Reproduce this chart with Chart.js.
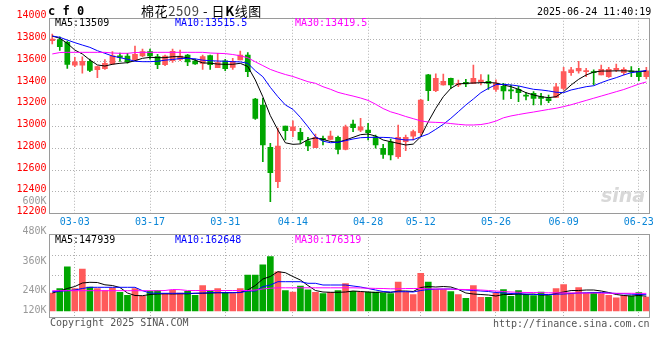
<!DOCTYPE html>
<html><head><meta charset="utf-8">
<script src="https://cdn.jsdelivr.net/npm/chart.js@4/dist/chart.umd.min.js"></script>
<style>
html,body{margin:0;padding:0;background:#fff;}
body{width:660px;height:360px;overflow:hidden;position:relative;font-family:'DejaVu Sans Mono',monospace;}
canvas{position:absolute;left:0;}
#main{top:0;}
#vol{top:226px;}
.t{position:absolute;white-space:nowrap;font-size:10px;line-height:12px;z-index:5;}
</style></head><body>
<canvas id="main" width="660" height="232"></canvas>
<canvas id="vol" width="660" height="134"></canvas>
<div class="t" style="left:48px;top:4px;font-weight:bold;font-size:12px;line-height:14px;">c f 0</div>
<div class="t" style="left:141px;top:2px;font-family:'Noto Sans CJK SC';font-size:13px;line-height:18px;letter-spacing:0.6px;">棉花<span style="color:#444">2509</span> - 日<b>K</b>线图</div>
<div class="t" style="left:537px;top:6px;">2025-06-24 11:40:19</div>
<div class="t" id="lg1" style="left:55px;top:17px;"></div>
<div class="t" id="lg2" style="left:175px;top:17px;color:#0000ff;"></div>
<div class="t" id="lg3" style="left:295px;top:17px;color:#ff00ff;"></div>
<div class="t" id="vl1" style="left:55px;top:234px;"></div>
<div class="t" id="vl2" style="left:175px;top:234px;color:#0000ff;"></div>
<div class="t" id="vl3" style="left:295px;top:234px;color:#ff00ff;"></div>
<div class="t" style="left:0;width:46.5px;text-align:right;top:195px;color:#999;">600K</div>
<div class="t" style="left:50px;top:317px;color:#555;">Copyright 2025 SINA.COM</div>
<div class="t" style="left:493px;top:318px;color:#555;">http://finance.sina.com.cn</div>
<div class="t" style="left:601px;top:184px;font-family:'DejaVu Sans';font-style:italic;font-weight:bold;font-size:19px;line-height:22px;color:#d8d8d8;">sina</div>
<script>
const dates = ['02-26','02-27','02-28','03-03','03-04','03-05','03-06','03-07','03-10','03-11','03-12','03-13','03-14','03-17','03-18','03-19','03-20','03-21','03-24','03-25','03-26','03-27','03-28','03-31','04-01','04-02','04-03','04-07','04-08','04-09','04-10','04-11','04-14','04-15','04-16','04-17','04-18','04-21','04-22','04-23','04-24','04-25','04-28','04-29','04-30','05-06','05-07','05-08','05-09','05-12','05-13','05-14','05-15','05-16','05-19','05-20','05-21','05-22','05-23','05-26','05-27','05-28','05-29','05-30','06-03','06-04','06-05','06-06','06-09','06-10','06-11','06-12','06-13','06-16','06-17','06-18','06-19','06-20','06-23','06-24'];
const opens = [13790,13800,13775,13565,13565,13600,13522,13532,13575,13650,13648,13612,13648,13688,13642,13569,13605,13617,13657,13602,13580,13651,13541,13605,13544,13612,13657,13253,13198,12808,12493,13005,12961,12946,12867,12805,12891,12882,12900,12790,13023,12967,12967,12906,12799,12860,12722,12860,12912,12943,13474,13330,13382,13444,13382,13406,13397,13410,13415,13340,13370,13336,13342,13287,13305,13274,13256,13267,13351,13495,13510,13504,13501,13474,13458,13520,13495,13510,13510,13458];
const highs = [13850,13825,13785,13635,13640,13620,13556,13615,13690,13675,13673,13740,13712,13712,13664,13657,13712,13703,13664,13620,13657,13657,13673,13617,13627,13694,13680,13260,13260,12845,12985,13005,13053,12983,12900,12931,12912,12958,12912,13014,13060,13075,13030,12920,12836,12885,13014,12921,12967,13250,13480,13485,13483,13445,13428,13434,13565,13478,13476,13430,13397,13382,13370,13311,13320,13305,13290,13397,13545,13545,13600,13535,13520,13565,13545,13575,13541,13550,13535,13544];
const lows = [13760,13700,13535,13550,13490,13505,13450,13525,13568,13598,13582,13605,13642,13618,13532,13560,13590,13605,13560,13570,13526,13526,13541,13513,13526,13612,13458,13066,12677,12308,12437,12876,12906,12845,12777,12805,12830,12876,12747,12784,12953,12953,12876,12800,12707,12692,12707,12777,12876,12921,13238,13320,13380,13350,13366,13366,13395,13382,13340,13322,13250,13256,13228,13244,13198,13198,13220,13265,13336,13470,13490,13458,13382,13474,13452,13504,13474,13458,13421,13437];
const closes = [13805,13735,13570,13595,13600,13515,13550,13580,13650,13636,13596,13664,13688,13648,13569,13648,13691,13648,13593,13575,13642,13569,13587,13531,13596,13657,13504,13075,12830,12575,12821,12962,12998,12876,12821,12900,12876,12912,12790,12998,12989,12998,12943,12830,12744,12738,12900,12900,12953,13243,13330,13444,13415,13382,13397,13391,13444,13428,13397,13400,13327,13327,13311,13280,13259,13259,13238,13364,13504,13520,13535,13513,13495,13526,13526,13535,13526,13501,13458,13513];
const ma5 = [13832,13811,13765,13703,13667,13612,13566,13556,13572,13581,13587,13605,13627,13636,13633,13633,13642,13642,13633,13610,13585,13582,13574,13572,13572,13581,13552,13428,13274,13100,12968,12850,12836,12840,12880,12895,12882,12862,12855,12876,12900,12925,12931,12912,12876,12860,12845,12830,12838,12906,13044,13167,13274,13351,13391,13397,13400,13403,13405,13400,13382,13366,13342,13311,13290,13274,13265,13274,13320,13382,13434,13474,13500,13510,13510,13512,13512,13510,13505,13509];
const ma10 = [13832,13820,13795,13771,13749,13728,13697,13673,13648,13633,13618,13600,13596,13596,13600,13610,13616,13625,13627,13622,13610,13605,13602,13600,13596,13594,13581,13513,13458,13360,13274,13198,13158,13084,12998,12906,12865,12851,12855,12870,12885,12897,12900,12900,12900,12897,12885,12876,12878,12906,12931,12974,13020,13075,13136,13198,13253,13311,13351,13385,13388,13382,13373,13357,13342,13336,13327,13315,13311,13336,13351,13366,13375,13403,13428,13449,13474,13495,13504,13516];
const ma30 = [13667,13680,13682,13682,13682,13682,13682,13682,13676,13673,13673,13680,13682,13682,13682,13682,13682,13682,13682,13682,13682,13676,13673,13670,13662,13650,13632,13595,13560,13525,13500,13478,13460,13436,13412,13397,13366,13342,13314,13296,13280,13262,13240,13205,13165,13135,13115,13092,13072,13052,13041,13038,13035,13027,13020,13014,13014,13018,13030,13050,13080,13097,13110,13122,13133,13145,13157,13168,13183,13200,13220,13240,13260,13280,13300,13320,13340,13365,13390,13410];
const volumes = [180000,224000,442000,224000,418000,238000,224000,204000,231000,187000,156000,224000,146000,197000,204000,173000,207000,180000,197000,156000,255000,197000,224000,187000,173000,224000,360000,360000,462000,544000,391000,204000,190000,248000,211000,187000,173000,187000,204000,275000,197000,190000,190000,190000,180000,173000,289000,187000,163000,377000,289000,214000,214000,194000,163000,126000,255000,136000,136000,180000,214000,146000,204000,163000,153000,190000,153000,224000,265000,180000,235000,180000,187000,173000,156000,132000,155000,150000,185000,140000];
const volMa5 = [180000,200000,225000,245000,280000,287000,285000,262000,255000,235000,180000,155000,153000,165000,170000,172000,170000,172000,172000,177000,177000,180000,183000,183000,183000,185000,210000,255000,320000,345000,393000,383000,345000,310000,255000,205000,190000,187000,187000,190000,200000,195000,190000,185000,190000,185000,200000,200000,195000,235000,245000,240000,245000,240000,215000,180000,170000,165000,160000,150000,165000,165000,170000,165000,170000,160000,160000,175000,190000,205000,205000,210000,210000,200000,185000,165000,155000,150000,155000,147939];
const volMa10 = [193000,197000,203000,210000,225000,237000,237000,237000,237000,237000,237000,237000,203000,180000,177000,177000,177000,177000,177000,177000,180000,183000,183000,183000,183000,185000,200000,200000,243000,260000,293000,293000,293000,293000,277000,277000,260000,260000,260000,260000,250000,240000,225000,210000,195000,190000,192000,193000,190000,205000,215000,218000,220000,220000,215000,210000,205000,200000,195000,185000,180000,175000,172000,170000,165000,165000,165000,168000,170000,175000,180000,182000,185000,185000,180000,175000,172000,168000,165000,162648];
const volMa30 = [203000,203000,203000,203000,203000,203000,203000,203000,203000,203000,203000,203000,203000,203000,203000,205000,215000,213000,205000,205000,205000,205000,205000,205000,205000,205000,205000,210000,220000,228000,232000,232000,232000,232000,232000,232000,232000,232000,232000,232000,232000,230000,228000,226000,225000,222000,222000,225000,225000,225000,222000,220000,220000,218000,216000,215000,213000,210000,205000,200000,195000,190000,187000,185000,185000,183000,182000,182000,181000,180000,180000,179000,179000,178000,178000,177000,177000,177000,176000,176319];
const gridDates = ['03-03','03-17','03-31','04-14','04-28','05-12','05-26','06-09','06-23'];
const priceTicks = [12200,12400,12600,12800,13000,13200,13400,13600,13800,14000];
const volTickLabels = ['480K','360K','240K','120K'];
const legendMain = ['MA5:13509','MA10:13515.5','MA30:13419.5'];
const legendVol = ['MA5:147939','MA10:162648','MA30:176319'];

document.getElementById('lg1').textContent = legendMain[0];
document.getElementById('lg2').textContent = legendMain[1];
document.getElementById('lg3').textContent = legendMain[2];
document.getElementById('vl1').textContent = legendVol[0];
document.getElementById('vl2').textContent = legendVol[1];
document.getElementById('vl3').textContent = legendVol[2];

Chart.defaults.font.family = "'DejaVu Sans Mono', monospace";
Chart.defaults.font.size = 10;

const RED = '#ff5a5a', GREEN = '#00a600', GRID = '#b0b0b0', NONE = 'rgba(0,0,0,0)';
const colors = closes.map((c, i) => c >= opens[i] ? RED : GREEN);
const gridSet = new Set(gridDates);
const LEFT = 48.5, RIGHT_PAD = 9.9;

const frame = {
  id: 'frame',
  afterDraw(chart) {
    const {ctx, chartArea: a} = chart;
    ctx.save();
    ctx.strokeStyle = '#9a9a9a';
    ctx.lineWidth = 1;
    const l = Math.round(a.left) + 0.5, t = Math.round(a.top) + 0.5;
    const r = Math.round(a.right) - 0.5, b = Math.round(a.bottom) - 0.5;
    ctx.strokeRect(l, t, r - l, b - t);
    ctx.restore();
  }
};

function xScale(showLabels, h) {
  return {
    type: 'category', offset: true,
    grid: { offset: false, drawTicks: false, lineWidth: 1,
      color: c => (c.type === 'tick' && gridSet.has(dates[c.index])) ? GRID : NONE },
    border: { display: false, dash: [1, 2] },
    ticks: { display: showLabels, autoSkip: false, maxRotation: 0, minRotation: 0, padding: 3,
      color: '#0a86d8', callback: (v, i) => gridSet.has(dates[i]) ? dates[i] : '' },
    afterFit: s => { s.height = h; }
  };
}

const lineDs = (data, color) => ({ type: 'line', data, borderColor: color, borderWidth: 1,
  pointRadius: 0, tension: 0, fill: false, order: 1 });

new Chart(document.getElementById('main'), {
  type: 'bar',
  data: { labels: dates, datasets: [
    lineDs(ma30, '#ff00ff'), lineDs(ma10, '#0000ff'), lineDs(ma5, '#000000'),
    { data: lows.map((l, i) => [l, highs[i]]), backgroundColor: colors, barThickness: 1,
      grouped: false, minBarLength: 1, order: 5 },
    { data: opens.map((o, i) => [o, closes[i]]), backgroundColor: colors, barThickness: 5,
      grouped: false, minBarLength: 1, order: 4 }
  ]},
  options: {
    responsive: false, animation: false, devicePixelRatio: 1,
    layout: { padding: { top: 17.75, right: RIGHT_PAD, left: 0, bottom: 0 } },
    plugins: { legend: { display: false }, tooltip: { enabled: false } },
    scales: {
      x: xScale(true, 18.5),
      y: { min: 12200, max: 14000,
        afterBuildTicks: s => { s.ticks = priceTicks.map(v => ({ value: v })); },
        grid: { drawTicks: false, color: c => (c.type === 'tick' && c.tick.value > 12200 && c.tick.value < 14000) ? GRID : NONE },
        border: { display: false, dash: [1, 2] },
        ticks: { color: '#ff0000', padding: 2, labelOffset: -2, autoSkip: false, callback: v => String(v) },
        afterFit: s => { s.width = LEFT; } }
    }
  },
  plugins: [frame]
});

const volLabelAt = [770000, 470000, 180000, -20000];
const volGridAt = [560000, 360000];
const volTicks = volLabelAt.concat(volGridAt).sort((a, b) => b - a);

new Chart(document.getElementById('vol'), {
  type: 'bar',
  data: { labels: dates, datasets: [
    lineDs(volMa30, '#ff00ff'), lineDs(volMa10, '#0000ff'), lineDs(volMa5, '#000000'),
    { data: volumes, backgroundColor: colors, barThickness: 6, order: 4 }
  ]},
  options: {
    responsive: false, animation: false, devicePixelRatio: 1,
    layout: { padding: { top: 8, right: RIGHT_PAD, left: 0, bottom: 42 } },
    plugins: { legend: { display: false }, tooltip: { enabled: false } },
    scales: {
      x: xScale(false, 0),
      y: { min: -70000, max: 770000,
        afterBuildTicks: s => { s.ticks = volTicks.map(v => ({ value: v })); },
        grid: { drawTicks: false, color: c => (c.type === 'tick' && volGridAt.includes(c.tick.value)) ? GRID : NONE },
        border: { display: false, dash: [1, 2] },
        ticks: { color: '#999999', padding: 2, labelOffset: -3, autoSkip: false,
          callback: v => { const k = volLabelAt.indexOf(v); return k >= 0 ? volTickLabels[k] : ''; } },
        afterFit: s => { s.width = LEFT; } }
    }
  },
  plugins: [frame]
});
</script>
</body></html>
